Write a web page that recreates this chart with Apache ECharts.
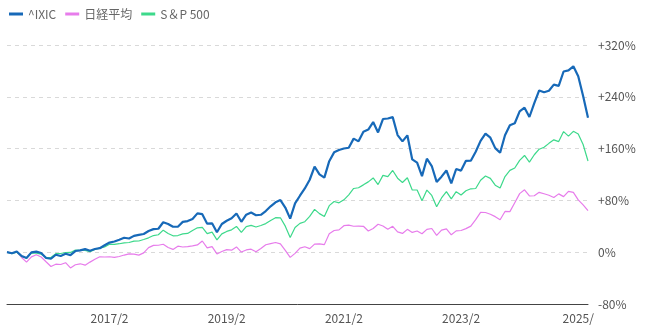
<!DOCTYPE html>
<html>
<head>
<meta charset="utf-8">
<style>
  html, body { margin: 0; padding: 0; background: #fff; }
  #chart { width: 653px; height: 325px; }
</style>
<script src="https://cdn.jsdelivr.net/npm/echarts@6/dist/echarts.min.js"></script>
</head>
<body>
<div id="chart"></div>
<script>
// Monthly cumulative return (%) since 2015/5, one value per month up to 2025/4.
const startYear = 2015, startMonth = 5, endYear = 2025, endMonth = 4;

const nasdaq = [
  0, -1.6, 1.1, -5.8, -8.9, -0.3, 0.8, -1.2,
  -9.0, -10.1, -3.9, -5.8, -2.4, -4.5, 1.8, 2.8, 4.8, 2.3, 5.0, 6.2,
  10.7, 14.9, 16.6, 19.3, 22.3, 21.1, 25.2, 26.8, 28.1, 32.7, 35.6, 36.2,
  46.2, 43.5, 39.3, 39.4, 46.8, 48.1, 51.3, 60.0, 58.7, 44.1, 44.6, 30.9,
  43.6, 48.6, 52.4, 59.7, 47.0, 57.9, 61.2, 57.1, 57.8, 63.6, 70.9, 77.0,
  80.5, 69.0, 51.9, 75.3, 87.2, 98.4, 111.9, 132.2, 120.3, 115.2, 140.6, 154.2,
  157.8, 160.2, 161.3, 175.4, 171.2, 186.1, 189.4, 201.0, 185.0, 205.7, 206.5, 208.6,
  180.9, 171.2, 180.5, 143.3, 138.3, 117.5, 144.4, 133.1, 108.6, 116.7, 126.2, 106.4,
  128.5, 126.0, 141.1, 141.2, 155.1, 172.0, 183.0, 176.8, 160.7, 153.5, 180.6, 196.1,
  199.1, 217.4, 223.1, 208.8, 230.1, 249.8, 247.1, 249.4, 258.8, 256.9, 279.1, 280.9,
  287.1, 271.7, 241.2, 207.5
];

const nikkei = [
  0, -1.6, 0.1, -8.1, -15.4, -7.2, -4.0, -7.4,
  -14.8, -22.1, -18.5, -19.0, -16.2, -24.3, -19.4, -17.9, -20.0, -15.3, -11.0, -7.0,
  -7.4, -7.0, -8.0, -6.6, -4.4, -2.6, -3.1, -4.5, -1.0, 7.0, 10.5, 10.7,
  12.3, 7.3, 4.3, 9.3, 8.0, 8.5, 9.7, 11.2, 17.3, 6.6, 8.7, -2.7,
  1.0, 4.0, 3.1, 8.2, 0.2, 3.5, 4.7, 0.7, 5.8, 11.5, 13.3, 15.0,
  12.8, 2.8, -8.0, -1.8, 6.4, 8.4, 5.6, 12.5, 12.8, 11.7, 28.6, 33.5,
  34.5, 40.9, 41.9, 40.1, 40.3, 40.0, 32.7, 36.6, 43.2, 40.5, 35.3, 40.0,
  31.3, 29.0, 35.3, 30.6, 32.7, 28.4, 35.2, 36.6, 26.1, 34.2, 36.0, 26.9,
  32.9, 33.5, 36.4, 40.3, 50.2, 61.4, 61.3, 58.6, 54.9, 50.1, 62.9, 62.7,
  76.5, 90.5, 96.3, 86.8, 87.2, 92.5, 90.2, 87.9, 84.4, 90.1, 85.8, 94.0,
  92.4, 80.7, 73.2, 64.3
];

const sp500 = [
  0, -2.1, -0.1, -6.4, -8.9, -1.3, -1.3, -3.0,
  -7.9, -8.3, -2.2, -2.0, -0.5, -0.4, 3.2, 3.0, 2.9, 0.9, 4.4, 6.3,
  8.2, 12.2, 12.2, 13.1, 14.5, 15.0, 17.2, 17.3, 19.6, 22.2, 25.7, 26.9,
  34.0, 28.8, 25.3, 25.7, 28.4, 29.0, 33.6, 37.7, 38.3, 28.7, 31.0, 19.0,
  28.3, 32.1, 34.5, 39.8, 30.6, 39.6, 41.4, 38.9, 41.3, 44.2, 49.1, 53.3,
  53.1, 40.2, 22.7, 38.2, 44.5, 47.1, 55.2, 66.1, 59.6, 55.2, 71.9, 78.3,
  76.3, 80.9, 88.6, 98.4, 99.5, 104.0, 108.6, 114.7, 104.5, 118.6, 116.8, 126.2,
  114.3, 107.6, 115.0, 96.1, 96.1, 79.6, 96.0, 87.7, 70.2, 83.8, 93.6, 82.3,
  93.5, 88.4, 95.0, 97.9, 98.4, 111.2, 117.8, 114.0, 103.5, 99.1, 116.8, 126.4,
  130.0, 141.9, 149.4, 139.0, 150.5, 159.1, 162.1, 168.1, 173.5, 170.8, 186.3, 179.2,
  186.7, 182.6, 166.4, 140.8
];

// Month categories "YYYY/M"
const months = [];
for (let y = startYear, m = startMonth; y < endYear || (y === endYear && m <= endMonth); ) {
  months.push(y + '/' + m);
  m++; if (m > 12) { m = 1; y++; }
}

// Axis tick positions and their printed text
const xTickAt   = ['2017/2', '2019/2', '2021/2', '2023/2', '2025/2'];
const xTickText = ['2017/2', '2019/2', '2021/2', '2023/2', '2025/'];
const yMin = -80, yMax = 320, yStep = 80;

const seriesNames = ['^IXIC', '日経平均', 'S＆P 500'];
const colors = ['#1769b8', '#e77ceb', '#3dd98b'];

const chart = echarts.init(document.getElementById('chart'), null, { renderer: 'canvas' });

const font = '"Noto Sans CJK JP", "Noto Sans", sans-serif';

chart.setOption({
  animation: false,
  textStyle: { fontFamily: font },
  color: colors,
  legend: {
    left: 4,
    top: 3,
    itemWidth: 14,
    itemHeight: 3,
    itemGap: 9,
    icon: 'rect',
    textStyle: { color: '#666', fontSize: 12, fontFamily: font },
    data: seriesNames
  },
  grid: { left: 7, right: 65, top: 45, bottom: 21, containLabel: false },
  xAxis: {
    type: 'category',
    data: months,
    boundaryGap: false,
    axisLine: { show: true, onZero: false, lineStyle: { color: '#444', width: 1 } },
    axisTick: { show: false },
    splitLine: { show: false },
    axisLabel: {
      color: '#555',
      fontSize: 12,
      margin: 8,
      fontFamily: font,
      interval: (idx, val) => xTickAt.indexOf(val) >= 0,
      formatter: (val) => {
        const i = xTickAt.indexOf(val);
        return i >= 0 ? xTickText[i] : '';
      }
    }
  },
  yAxis: {
    type: 'value',
    position: 'right',
    min: yMin,
    max: yMax,
    interval: yStep,
    axisLine: { show: false },
    axisTick: { show: false },
    splitLine: { show: true, lineStyle: { color: '#d9d9d9', type: [4, 4], width: 1 } },
    axisLabel: {
      color: '#555',
      fontSize: 12,
      margin: 10,
      fontFamily: font,
      formatter: (v) => (v > 0 ? '+' + v + '%' : v + '%')
    }
  },
  series: [
    { name: seriesNames[0], type: 'line', data: nasdaq, symbol: 'none', z: 3,
      lineStyle: { width: 2.2, color: colors[0] } },
    { name: seriesNames[1], type: 'line', data: nikkei, symbol: 'none', z: 1,
      lineStyle: { width: 1.2, color: colors[1] } },
    { name: seriesNames[2], type: 'line', data: sp500, symbol: 'none', z: 2,
      lineStyle: { width: 1.2, color: colors[2] } }
  ]
});
</script>
</body>
</html>
